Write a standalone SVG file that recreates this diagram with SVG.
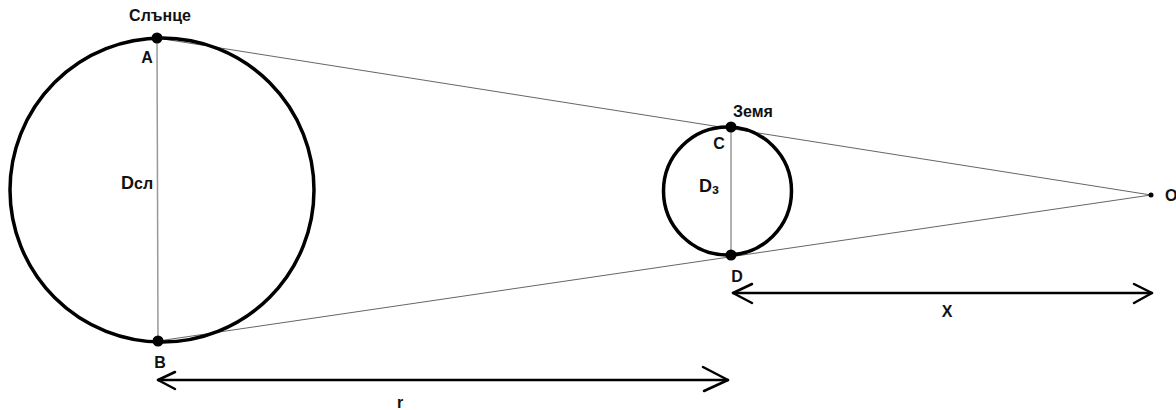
<svg xmlns="http://www.w3.org/2000/svg" width="1176" height="410" viewBox="0 0 1176 410">
<style>
.circ{fill:none;stroke:#000;stroke-width:3.5}
.diam{stroke:#999;stroke-width:1.5}
.tan{stroke:#666;stroke-width:1}
.arr{fill:none;stroke:#000;stroke-width:2.5;stroke-linecap:round;stroke-linejoin:round}
.dot{fill:#000}
text{font-family:"Liberation Sans","DejaVu Sans",sans-serif;font-weight:bold;font-size:16px;fill:#111}
.big{font-size:18px}
</style>
<rect width="1176" height="410" fill="#fff"/>
<g id="connectors">
<line class="tan" x1="157" y1="38" x2="1151" y2="195"/>
<line class="tan" x1="158" y1="341" x2="1151" y2="195"/>
<line class="diam" x1="157" y1="38" x2="158" y2="341"/>
<line class="diam" x1="731" y1="127" x2="731" y2="255"/>
<g id="arrow-r">
<line class="arr" x1="158" y1="380" x2="728" y2="380"/>
<polyline class="arr" points="175,372 158,380 175,389"/>
<polyline class="arr" points="703,367 728,380 704,391"/>
</g>
<g id="arrow-x">
<line class="arr" x1="733" y1="293" x2="1152" y2="293"/>
<polyline class="arr" points="752,284 733,293 752,303"/>
<polyline class="arr" points="1134,284 1152,293 1134,303"/>
</g>
</g>
<g id="sun">
<circle class="circ" cx="162" cy="190" r="152"/>
<text x="160" y="21" text-anchor="middle">Слънце</text>
<text class="big" x="121" y="189">D<tspan font-size="16">сл</tspan></text>
</g>
<g id="earth">
<circle class="circ" cx="727.5" cy="191" r="64"/>
<text x="733" y="117">Земя</text>
<text class="big" x="699" y="192">D<tspan font-size="14" dy="2">з</tspan></text>
</g>
<g id="A"><circle class="dot" cx="157" cy="38" r="5.5"/><text x="147" y="63" text-anchor="middle">A</text></g>
<g id="B"><circle class="dot" cx="158" cy="341" r="5.5"/><text x="160" y="368" text-anchor="middle">B</text></g>
<g id="C"><circle class="dot" cx="731" cy="127" r="5.5"/><text x="719" y="149" text-anchor="middle">C</text></g>
<g id="D"><circle class="dot" cx="731" cy="255" r="5.5"/><text x="737" y="282" text-anchor="middle">D</text></g>
<g id="O"><circle class="dot" cx="1151" cy="195" r="2.5"/><text x="1165" y="201">O</text></g>
<text x="947" y="317" text-anchor="middle">X</text>
<text x="400" y="408" text-anchor="middle">r</text>
</svg>
